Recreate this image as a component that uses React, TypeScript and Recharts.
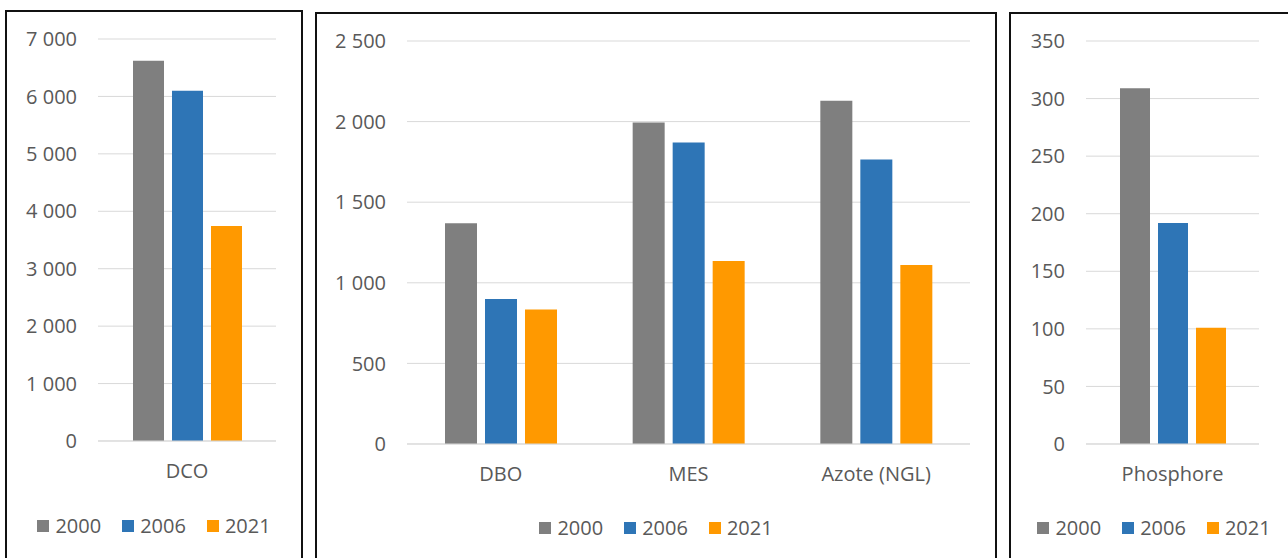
import type { JSX } from 'react';
import { Bar, BarChart, CartesianGrid, XAxis, YAxis } from 'recharts';

const years = ['2000', '2006', '2021'];
const colors = ['#7f7f7f', '#2e75b6', '#ff9900'];

const dcoCategories = ['DCO'];
const dco2000 = [6620];
const dco2006 = [6100];
const dco2021 = [3745];
const dcoTicks = [0, 1000, 2000, 3000, 4000, 5000, 6000, 7000];

const midCategories = ['DBO', 'MES', 'Azote (NGL)'];
const mid2000 = [1370, 1995, 2130];
const mid2006 = [900, 1870, 1765];
const mid2021 = [835, 1135, 1110];
const midTicks = [0, 500, 1000, 1500, 2000, 2500];

const phCategories = ['Phosphore'];
const ph2000 = [309];
const ph2006 = [192];
const ph2021 = [101];
const phTicks = [0, 50, 100, 150, 200, 250, 300, 350];

const FONT = "'Open Sans', sans-serif";
const TEXT = '#595959';
const GRID = '#d9d9d9';

const fmt = (v: number) => String(v).replace(/\B(?=(\d{3})+(?!\d))/g, ' ');

function Panel({
  left,
  top,
  width,
  categories,
  series,
  ticks,
  plotLeft,
  plotRight,
  plotTop,
  plotBottom,
  barSize,
}: {
  left: number;
  top: number;
  width: number;
  categories: string[];
  series: number[][];
  ticks: number[];
  plotLeft: number;
  plotRight: number;
  plotTop: number;
  plotBottom: number;
  barSize: number;
}): JSX.Element {
  const chartW = width - 4;
  const chartH = 500;
  const axisH = 60;
  const data = categories.map((c, i) => ({
    name: c,
    y2000: series[0][i],
    y2006: series[1][i],
    y2021: series[2][i],
  }));
  const keys = ['y2000', 'y2006', 'y2021'];

  return (
    <div
      style={{
        position: 'absolute',
        left,
        top,
        width,
        height: 600,
        boxSizing: 'border-box',
        border: '2px solid #111',
        background: '#fff',
      }}
    >
      <BarChart
        width={chartW}
        height={chartH}
        data={data}
        barGap={8}
        barSize={barSize}
        margin={{ top: plotTop, right: chartW - plotRight, left: 0, bottom: chartH - plotBottom - axisH }}
      >
        <CartesianGrid vertical={false} stroke={GRID} />
        <XAxis
          dataKey="name"
          interval={0}
          height={axisH}
          tickLine={false}
          tickSize={0}
          tickMargin={23}
          axisLine={{ stroke: GRID }}
          tick={{ fill: TEXT, fontSize: 20, fontFamily: FONT }}
        />
        <YAxis
          width={plotLeft}
          domain={[ticks[0], ticks[ticks.length - 1]]}
          ticks={ticks}
          tickFormatter={fmt}
          axisLine={false}
          tickLine={false}
          tickSize={0}
          tickMargin={21}
          tick={{ fill: TEXT, fontSize: 20, fontFamily: FONT }}
        />
        {keys.map((k, i) => (
          <Bar key={k} dataKey={k} fill={colors[i]} isAnimationActive={false} />
        ))}
      </BarChart>
      <div
        style={{
          position: 'absolute',
          left: 0,
          right: 0,
          top: 503,
          display: 'flex',
          justifyContent: 'center',
          alignItems: 'center',
          gap: 21,
          fontFamily: FONT,
          fontSize: 20,
          lineHeight: '22px',
          color: TEXT,
        }}
      >
        {years.map((y, i) => (
          <span key={y} style={{ display: 'flex', alignItems: 'center' }}>
            <span style={{ width: 12, height: 12, background: colors[i], marginRight: 6 }} />
            {y}
          </span>
        ))}
      </div>
    </div>
  );
}

export default function App(): JSX.Element {
  return (
    <div
      style={{
        position: 'absolute',
        left: 0,
        top: 0,
        width: 1288,
        height: 558,
        overflow: 'hidden',
        background: '#fff',
      }}
    >
      <Panel
        left={5}
        top={10}
        width={298}
        categories={dcoCategories}
        series={[dco2000, dco2006, dco2021]}
        ticks={dcoTicks}
        plotLeft={91}
        plotRight={269}
        plotTop={27}
        plotBottom={429}
        barSize={31}
      />
      <Panel
        left={315}
        top={12}
        width={682}
        categories={midCategories}
        series={[mid2000, mid2006, mid2021]}
        ticks={midTicks}
        plotLeft={90}
        plotRight={653}
        plotTop={27}
        plotBottom={430}
        barSize={32}
      />
      <Panel
        left={1009}
        top={12}
        width={290}
        categories={phCategories}
        series={[ph2000, ph2006, ph2021]}
        ticks={phTicks}
        plotLeft={75}
        plotRight={248}
        plotTop={27}
        plotBottom={430}
        barSize={30}
      />
    </div>
  );
}
